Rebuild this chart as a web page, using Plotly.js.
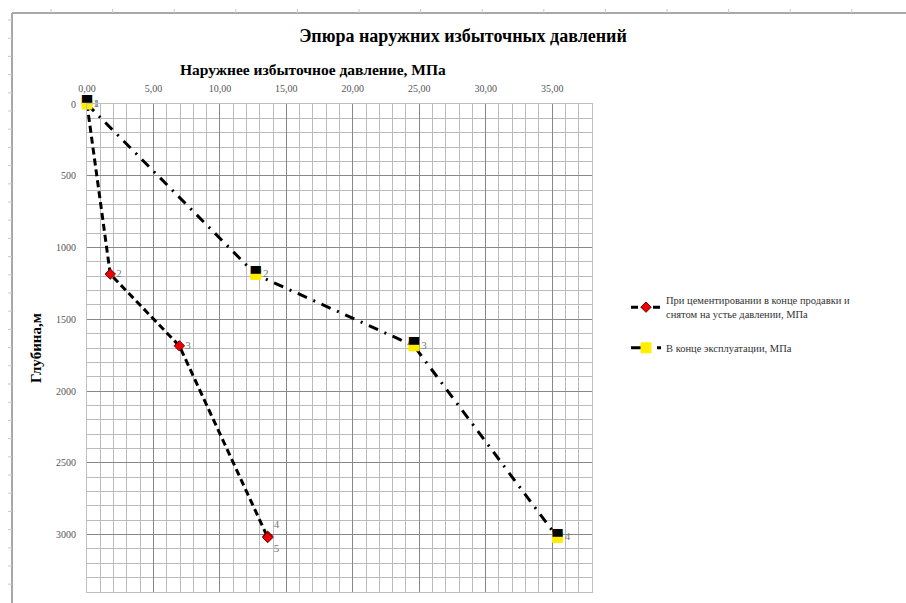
<!DOCTYPE html>
<html>
<head>
<meta charset="utf-8">
<script src="https://cdn.plot.ly/plotly-3.0.1.min.js"></script>
<style>html,body{margin:0;padding:0;background:#fff}#chart{width:906px;height:603px}</style>
</head>
<body>
<div id="chart"></div>
<script>
// Data
const cementPressure = [0, 1.75, 6.95, 13.6, 13.6];
const cementDepth = [0, 1185, 1685, 3012, 3020];
const cementLabels = ['1', '2', '3', '4', '5'];
const servicePressure = [0, 12.7, 24.6, 35.4];
const serviceDepth = [0, 1188, 1685, 3020];
const serviceLabels = ['1', '2', '3', '4'];
const xTickVals = [0, 5, 10, 15, 20, 25, 30, 35];
const yTickVals = [0, 500, 1000, 1500, 2000, 2500, 3000];
const seriesNames = ['При цементировании в конце продавки и<br>снятом на устье давлении, МПа', 'В конце эксплуатации, МПа'];

const serif = 'Liberation Serif, Times New Roman, serif';
const W = 906, H = 603, L = 87, R = 314, T = 104, B = 11;
const pw = W - L - R, ph = H - T - B;
const px = q => (q - L) / pw;
const py = p => (H - B - p) / ph;

const traces = [
  {
    x: cementPressure, y: cementDepth, name: seriesNames[0], legendgroup: 'a',
    mode: 'lines+markers+text', text: cementLabels, cliponaxis: false,
    textposition: ['middle right', 'middle right', 'middle right', 'top right', 'bottom right'],
    textfont: {family: serif, size: 11, color: '#777'},
    line: {color: '#000', width: 3, dash: '7px,4px'},
    marker: {symbol: 'diamond', size: 8, color: '#ee0000', line: {color: '#600', width: 1}}
  },
  {
    x: servicePressure, y: serviceDepth, name: seriesNames[1], legendgroup: 'b',
    mode: 'lines+markers+text', text: serviceLabels, cliponaxis: false,
    textposition: 'middle right',
    textfont: {family: serif, size: 11, color: '#777'},
    line: {color: '#000', width: 3, dash: '10px,7px,2px,7px'},
    marker: {symbol: 'square', size: 10, color: '#ffee00', line: {color: '#ffee00', width: 1}}
  },
  {
    x: servicePressure, y: serviceDepth, showlegend: false, hoverinfo: 'skip', cliponaxis: false,
    legendgroup: 'b',
    mode: 'text', text: servicePressure.map(() => '▀'),
    textposition: 'middle center',
    textfont: {family: 'DejaVu Sans', size: 13, color: '#000'}
  }
];

const shapes = [];
const frameCol = '#a8a8a8';
shapes.push({type: 'line', xref: 'paper', yref: 'paper', x0: px(12), x1: px(906), y0: py(13), y1: py(13), line: {color: frameCol, width: 2}});
shapes.push({type: 'line', xref: 'paper', yref: 'paper', x0: px(12), x1: px(12), y0: py(13), y1: py(603), line: {color: frameCol, width: 2}});
for (let k = 0; k < 15; k++) {
  const q = 51 + 61.6 * k;
  if (q > 900) break;
  shapes.push({type: 'line', xref: 'paper', yref: 'paper', x0: px(q), x1: px(q), y0: py(9), y1: py(13), line: {color: '#c8c8c8', width: 1}});
}
for (let k = 0; k < 40; k++) {
  const p = 20 + 18.2 * k;
  if (p > 600) break;
  shapes.push({type: 'line', xref: 'paper', yref: 'paper', x0: px(8), x1: px(12), y0: py(p), y1: py(p), line: {color: '#c8c8c8', width: 1}});
}

const layout = {
  width: W, height: H,
  margin: {l: L, r: R, t: T, b: B, pad: 0},
  paper_bgcolor: '#fff', plot_bgcolor: '#fff',
  separators: ', ',
  font: {family: serif, size: 10, color: '#444'},
  title: {text: '<b>Эпюра наружних избыточных давлений</b>', font: {family: serif, size: 18, color: '#000'},
          x: 463 / W, xanchor: 'center', y: 1 - 36 / H, yanchor: 'middle', xref: 'container', yref: 'container'},
  xaxis: {
    side: 'top', range: [0, 38], tickvals: xTickVals, tickformat: '.2f',
    showgrid: true, gridcolor: '#888', gridwidth: 1,
    minor: {dtick: 1, showgrid: true, gridcolor: '#bbb', gridwidth: 1},
    zeroline: false, showline: true, linecolor: '#c0c0c0', mirror: true, linewidth: 1,
    ticks: '', ticklabelstandoff: 7,
    tickfont: {family: serif, size: 10, color: '#555'}
  },
  yaxis: {
    range: [3400, 0], tickvals: yTickVals,
    showgrid: true, gridcolor: '#888', gridwidth: 1,
    minor: {dtick: 100, showgrid: true, gridcolor: '#bbb', gridwidth: 1},
    zeroline: false, showline: true, linecolor: '#c0c0c0', mirror: true, linewidth: 1,
    ticks: '', ticklabelstandoff: 8,
    tickfont: {family: serif, size: 10, color: '#555'},
    title: {text: '<b>Глубина,м</b>', font: {family: serif, size: 15, color: '#000'}, standoff: 10}
  },
  legend: {
    x: px(626), y: py(287), xanchor: 'left', yanchor: 'top',
    font: {family: serif, size: 10.5, color: '#333'},
    bgcolor: 'rgba(0,0,0,0)', traceorder: 'grouped', tracegroupgap: 16, itemwidth: 30
  },
  annotations: [
    {text: '<b>Наружнее избыточное давление, МПа</b>', xref: 'paper', yref: 'paper',
     x: px(313), y: py(70), xanchor: 'center', yanchor: 'middle', showarrow: false,
     font: {family: serif, size: 15.5, color: '#000'}}
  ],
  shapes: shapes
};

Plotly.newPlot('chart', traces, layout, {displayModeBar: false, staticPlot: true});
</script>
</body>
</html>
